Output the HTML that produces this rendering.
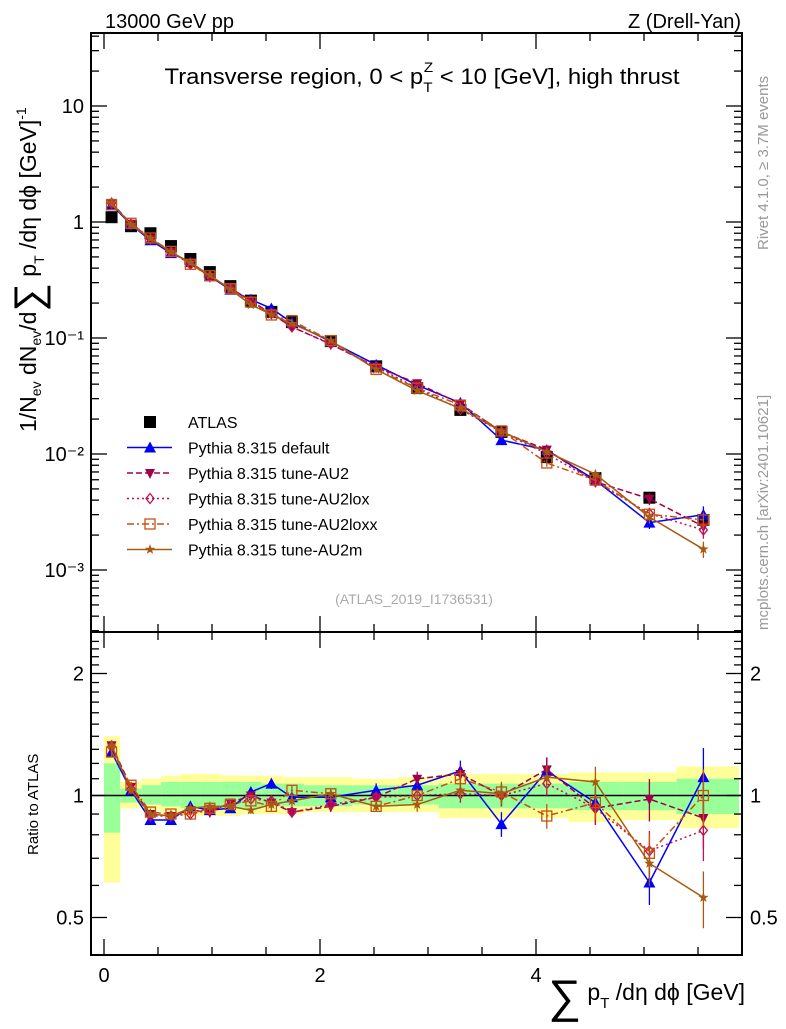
<!DOCTYPE html>
<html><head><meta charset="utf-8"><style>
body{margin:0;background:#fff;}
svg text{font-family:"Liberation Sans",sans-serif;}
</style></head><body>
<svg id="chart" width="786" height="1024" viewBox="0 0 786 1024" xmlns="http://www.w3.org/2000/svg">
<g id="bands"></g>
<g id="axes"></g>
<g id="series"></g>
<g id="legend"></g>
<text x="105" y="28" font-size="20">13000 GeV pp</text>
<text x="741" y="28" font-size="20" text-anchor="end">Z (Drell-Yan)</text>
<text x="422" y="84" font-size="22" text-anchor="middle" textLength="515" lengthAdjust="spacingAndGlyphs">Transverse region, 0 &lt; p<tspan dy="8" font-size="14">T</tspan><tspan dx="-8" dy="-20" font-size="14">Z</tspan><tspan dy="12"> &lt; 10 [GeV], high thrust</tspan></text>
<text x="414" y="604" font-size="14" fill="#aaa" text-anchor="middle">(ATLAS_2019_I1736531)</text>
<text transform="translate(768,250) rotate(-90)" font-size="15" fill="#999">Rivet 4.1.0, ≥ 3.7M events</text>
<text transform="translate(768,630) rotate(-90)" font-size="15" fill="#999">mcplots.cern.ch [arXiv:2401.10621]</text>
<text transform="translate(36,432) rotate(-90)" font-size="23">1/N<tspan font-size="14" dy="5">ev</tspan><tspan dy="-5"> dN</tspan><tspan font-size="14" dy="5">ev</tspan><tspan dy="-5">/d</tspan><tspan font-size="40" dy="6">∑</tspan><tspan dy="-6"> p</tspan><tspan font-size="14" dy="8">T</tspan><tspan dy="-8"> /dη dϕ  [GeV]</tspan><tspan font-size="14" dy="-10">-1</tspan></text>
<text transform="translate(38,855) rotate(-90)" font-size="15">Ratio to ATLAS</text>
<text x="745" y="1000" font-size="23" text-anchor="end"><tspan font-size="46" dy="12">∑</tspan><tspan dy="-12"> p</tspan><tspan font-size="15" dy="8">T</tspan><tspan dy="-8"> /dη dϕ [GeV]</tspan></text>
</svg>
<script>
const xs=[0.07,0.25,0.43,0.62,0.8,0.98,1.17,1.36,1.55,1.74,2.1,2.52,2.9,3.3,3.68,4.1,4.55,5.05,5.55];
const binEdges=[0,0.15,0.35,0.53,0.71,0.89,1.08,1.27,1.46,1.65,1.85,2.3,2.72,3.1,3.5,3.88,4.3,4.8,5.3,5.88];
const atlas=[1.1,0.92,0.80,0.62,0.48,0.37,0.28,0.21,0.168,0.137,0.094,0.057,0.037,0.024,0.0155,0.0094,0.0062,0.0042,0.0027];
const rDefault=[1.28,1.03,0.87,0.87,0.94,0.92,0.93,1.02,1.07,0.99,0.99,1.03,1.06,1.15,0.85,1.15,0.96,0.61,1.11];
const rAU2=[1.33,1.05,0.90,0.89,0.92,0.91,0.96,1.0,0.96,0.91,0.94,0.99,1.10,1.13,1.0,1.16,0.93,0.98,0.88];
const rAU2lox=[1.32,1.04,0.89,0.89,0.90,0.92,0.95,0.98,0.97,0.91,0.95,0.99,1.0,1.01,1.0,1.07,0.93,0.73,0.82];
const rAU2loxx=[1.28,1.06,0.91,0.90,0.90,0.93,0.95,0.97,0.94,1.03,1.01,0.94,1.0,1.10,1.02,0.89,0.96,0.72,1.0];
const rAU2m=[1.33,1.03,0.90,0.89,0.93,0.94,0.94,0.92,0.95,0.97,1.01,0.94,0.95,1.03,1.01,1.11,1.08,0.68,0.56];
const errDefault=[0.03,0.02,0.02,0.02,0.02,0.02,0.02,0.02,0.03,0.03,0.03,0.04,0.05,0.06,0.07,0.08,0.09,0.12,0.18];
const errOther=[0.03,0.02,0.02,0.02,0.02,0.02,0.02,0.02,0.03,0.03,0.03,0.03,0.04,0.05,0.06,0.07,0.09,0.12,0.16];
const yelHi=[1.40,1.08,1.10,1.12,1.13,1.13,1.12,1.12,1.12,1.11,1.11,1.10,1.11,1.13,1.13,1.13,1.14,1.14,1.18];
const yelLo=[0.61,0.93,0.92,0.90,0.89,0.89,0.89,0.90,0.90,0.90,0.91,0.91,0.91,0.88,0.88,0.88,0.86,0.87,0.83];
const grnHi=[1.20,1.04,1.06,1.08,1.08,1.08,1.08,1.08,1.07,1.07,1.06,1.06,1.06,1.07,1.07,1.07,1.08,1.08,1.10];
const grnLo=[0.81,0.96,0.95,0.94,0.93,0.93,0.93,0.93,0.94,0.94,0.94,0.95,0.95,0.93,0.93,0.93,0.92,0.92,0.90];
const mainTicks=[{v:10,l:"10"},{v:1,l:"1"},{v:0.1,l:"10\u207B\u00B9"},{v:0.01,l:"10\u207B\u00B2"},{v:0.001,l:"10\u207B\u00B3"}];
const ratioTicks=[2,1,0.5];
const xTicks=[0,2,4];

const NS="http://www.w3.org/2000/svg";
const L=91,R=742,T=33,MB=632,RB=955;
const X=v=>104+v*108;
const Y=v=>222-Math.log10(v)*116;
const RY=v=>795.5-Math.log2(v)*122;
function mk(tag,attrs,parent){const e=document.createElementNS(NS,tag);for(const k in attrs)e.setAttribute(k,attrs[k]);parent.appendChild(e);return e;}
const bands=document.getElementById('bands'),axes=document.getElementById('axes'),ser=document.getElementById('series'),leg=document.getElementById('legend');

for(let i=0;i<xs.length;i++){
 const x0=X(binEdges[i]),x1=Math.min(X(binEdges[i+1]),R);
 let r=mk('rect',{x:x0,y:RY(yelHi[i]),width:x1-x0,height:RY(yelLo[i])-RY(yelHi[i]),fill:'#ffff99'},bands);
 
 
 let g=mk('rect',{x:x0,y:RY(grnHi[i]),width:x1-x0,height:RY(grnLo[i])-RY(grnHi[i]),fill:'#99ff99'},bands);
 
 
}
let f1=mk('rect',{x:L,y:T,width:R-L,height:MB-T,fill:'none',stroke:'#000','stroke-width':2},axes);


let f2=mk('rect',{x:L,y:MB,width:R-L,height:RB-MB,fill:'none',stroke:'#000','stroke-width':2},axes);


let one=mk('line',{x1:L,x2:R,y1:RY(1),y2:RY(1),stroke:'#000','stroke-width':1.5},axes);


for(let v=0;v<=5.8;v+=0.25){
 const big=Math.abs(v-Math.round(v/2)*2)<1e-6, mid=Math.abs(v-Math.round(v*2)/2)<1e-6;
 const len=big?16:(mid?8:4);
 if(!mid) continue;
 for(const [yb,dir] of [[MB,-1],[T,1],[RB,-1],[MB,1]]){
  mk('line',{x1:X(v),x2:X(v),y1:yb,y2:yb+dir*len,stroke:'#000','stroke-width':1.3},axes);
 }
}
for(const v of xTicks){
 let t=mk('text',{x:X(v),y:982,'font-size':20,'text-anchor':'middle'},axes);t.textContent=v;
 
 
}
for(let d=-4;d<=1;d++){for(let m=1;m<=9;m++){const v=m*Math.pow(10,d);const y=Y(v);if(y<T||y>MB)continue;const len=m==1?16:8;
 mk('line',{x1:L,x2:L+len,y1:y,y2:y,stroke:'#000','stroke-width':1.3},axes);
 mk('line',{x1:R,x2:R-len,y1:y,y2:y,stroke:'#000','stroke-width':1.3},axes);}}
for(const tk of mainTicks){
 let t=mk('text',{x:84,y:Y(tk.v)+7,'font-size':20,'text-anchor':'end'},axes);t.textContent=tk.l;
 
 
}
for(let v=0.5;v<=2.5;v+=0.1){const y=RY(v);if(y<MB||y>RB)continue;const big=[0.5,1,2].some(b=>Math.abs(b-v)<1e-6);const len=big?16:8;
 mk('line',{x1:L,x2:L+len,y1:y,y2:y,stroke:'#000','stroke-width':1.3},axes);
 mk('line',{x1:R,x2:R-len,y1:y,y2:y,stroke:'#000','stroke-width':1.3},axes);}
for(const v of ratioTicks){
 let t=mk('text',{x:84,y:RY(v)+7,'font-size':20,'text-anchor':'end'},axes);t.textContent=v;
 
 
 let t2=mk('text',{x:750,y:RY(v)+7,'font-size':20},axes);t2.textContent=v;
 
 
}
function marker(kind,x,y,color,p){
 if(kind=='sq') return mk('rect',{x:x-6,y:y-6,width:12,height:12,fill:'#000'},p);
 if(kind=='tri') return mk('polygon',{points:`${x},${y-6} ${x-6},${y+5} ${x+6},${y+5}`,fill:color},p);
 if(kind=='dtri') return mk('polygon',{points:`${x},${y+6} ${x-5},${y-4} ${x+5},${y-4}`,fill:color},p);
 if(kind=='dia') return mk('polygon',{points:`${x},${y-5} ${x+4},${y} ${x},${y+5} ${x-4},${y}`,fill:'none',stroke:color,'stroke-width':1.3},p);
 if(kind=='osq') return mk('rect',{x:x-5,y:y-5,width:10,height:10,fill:'none',stroke:color,'stroke-width':1.3},p);
 if(kind=='star'){let pts=[];for(let k=0;k<10;k++){const a=-Math.PI/2+k*Math.PI/5,r=k%2?2.2:5.5;pts.push((x+r*Math.cos(a)).toFixed(1)+','+(y+r*Math.sin(a)).toFixed(1));}return mk('polygon',{points:pts.join(' '),fill:color},p);}
}
const models=[
 {name:'Pythia 8.315 default',r:rDefault,err:errDefault,color:'#0000ff',dash:'',mk:'tri',id:'default'},
 {name:'Pythia 8.315 tune-AU2',r:rAU2,err:errOther,color:'#a0004a',dash:'6,3',mk:'dtri',id:'au2'},
 {name:'Pythia 8.315 tune-AU2lox',r:rAU2lox,err:errOther,color:'#c0105a',dash:'2,3',mk:'dia',id:'au2lox'},
 {name:'Pythia 8.315 tune-AU2loxx',r:rAU2loxx,err:errOther,color:'#c85010',dash:'7,3,2,3',mk:'osq',id:'au2loxx'},
 {name:'Pythia 8.315 tune-AU2m',r:rAU2m,err:errOther,color:'#a85a10',dash:'',mk:'star',id:'au2m'}];
const ga=mk('g',{},ser);


atlas.forEach((v,i)=>{let m=marker('sq',X(xs[i]),Y(v),'#000',ga);
 
 });
for(const md of models){
 const g=mk('g',{},ser);
 
 
 const vals=atlas.map((a,i)=>a*md.r[i]);
 mk('polyline',{points:vals.map((v,i)=>X(xs[i])+','+Y(v)).join(' '),fill:'none',stroke:md.color,'stroke-width':1.5,'stroke-dasharray':md.dash},g);
 mk('polyline',{points:md.r.map((v,i)=>X(xs[i])+','+RY(v)).join(' '),fill:'none',stroke:md.color,'stroke-width':1.5,'stroke-dasharray':md.dash},g);
 vals.forEach((v,i)=>{
  const e=md.err[i];
  mk('line',{x1:X(xs[i]),x2:X(xs[i]),y1:Y(v*(1+e)),y2:Y(v*(1-e)),stroke:md.color,'stroke-width':1.3},g);
  mk('line',{x1:X(xs[i]),x2:X(xs[i]),y1:RY(md.r[i]*(1+e)),y2:RY(md.r[i]*(1-e)),stroke:md.color,'stroke-width':1.3},g);
  let m1=marker(md.mk,X(xs[i]),Y(v),md.color,g);
  
  
  let m2=marker(md.mk,X(xs[i]),RY(md.r[i]),md.color,g);
  
  
 });
}
const ly0=422,ldy=25.5;
let lg=mk('g',{},leg);


marker('sq',150,ly0,'#000',lg);
let lt=mk('text',{x:188,y:ly0+6,'font-size':16},lg);lt.textContent='ATLAS';
models.forEach((md,k)=>{
 const y=ly0+ldy*(k+1);
 const g=mk('g',{},leg);
 
 
 mk('line',{x1:127,x2:172,y1:y,y2:y,stroke:md.color,'stroke-width':1.5,'stroke-dasharray':md.dash},g);
 marker(md.mk,150,y,md.color,g);
 const t=mk('text',{x:188,y:y+6,'font-size':16},g);t.textContent=md.name;
});
</script>
</body></html>
